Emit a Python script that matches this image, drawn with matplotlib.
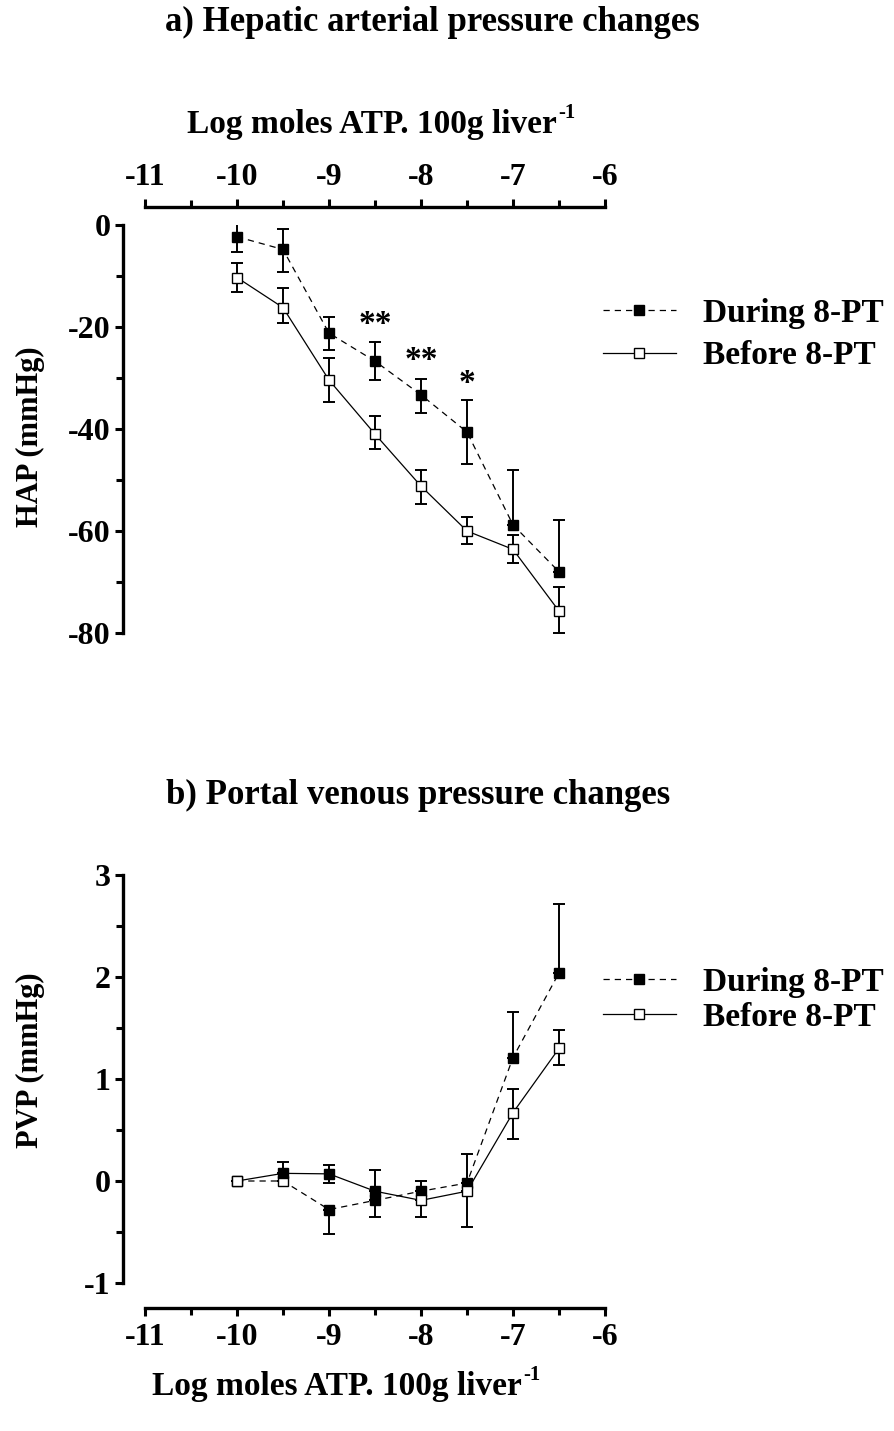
import matplotlib
matplotlib.use("Agg")
import matplotlib.pyplot as plt
from matplotlib.lines import Line2D
import numpy as np

plt.rcParams['font.family'] = ['Liberation Serif', 'DejaVu Serif']
plt.rcParams['font.weight'] = 'bold'
plt.rcParams['axes.unicode_minus'] = False

# log dose, moles ATP per 100 g liver
doses = [-10, -9.5, -9, -8.5, -8, -7.5, -7, -6.5]

# a) hepatic arterial pressure change (mmHg)
hap_during = [-2.3, -4.8, -21.2, -26.7, -33.3, -40.6, -58.8, -68.0]
hap_during_lo = [2.9, 4.4, 3.4, 3.7, 3.6, 6.2, 0, 0]
hap_during_hi = [3.3, 4.0, 3.2, 3.8, 3.2, 6.3, 10.8, 10.2]
hap_before = [-10.3, -16.2, -30.4, -41.0, -51.2, -60.0, -63.6, -75.7]
hap_before_lo = [2.8, 3.1, 4.3, 3.0, 3.6, 2.6, 2.6, 4.3]
hap_before_hi = [2.8, 3.9, 4.3, 3.5, 3.2, 2.8, 2.8, 4.8]
sig_doses = [-8.5, -8, -7.5]
sig_marks = ['**', '**', '*']
sig_y = [-19.5, -26.5, -31.0]

# b) portal venous pressure change (mmHg), as the two traces are drawn
pvp_during = [0, 0.0, -0.28, -0.19, -0.10, -0.02, 1.21, 2.04]
pvp_during_lo = [0, 0, 0.24, 0, 0, 0, 0, 0]
pvp_during_hi = [0, 0, 0, 0.30, 0.10, 0.28, 0.45, 0.68]
pvp_during_fill = [False, False, True, True, True, True, True, True]
pvp_before = [0, 0.075, 0.07, -0.10, -0.19, -0.10, 0.67, 1.30]
pvp_before_lo = [0, 0, 0.09, 0.25, 0.16, 0.35, 0.26, 0.16]
pvp_before_hi = [0, 0.115, 0.09, 0, 0, 0, 0.23, 0.18]
pvp_before_fill = [False, True, True, True, False, False, False, False]

xticks = [-11, -10, -9, -8, -7, -6]
xlabel = "Log moles ATP. 100g liver"

DASH = (0, (5, 4))
TICK_FS = 23
LAB_FS = 24
TITLE_FS = 25

W, H = 895, 1431


def draw_series(ax, y, lo, hi, fill, ls):
    x = np.array(doses)
    y = np.array(y)
    ax.errorbar(x, y, yerr=[lo, hi], fmt='none', ecolor='black',
                elinewidth=1.4, capsize=4, capthick=1.4, zorder=2)
    ax.plot(x, y, color='black', lw=0.9, ls=ls, zorder=3)
    fill = np.array(fill)
    ax.plot(x[fill], y[fill], 's', ms=7, mfc='black', mec='black',
            mew=1.0, ls='none', zorder=4)
    ax.plot(x[~fill], y[~fill], 's', ms=7, mfc='white', mec='black',
            mew=1.0, ls='none', zorder=4)


def style_axes(ax, xside):
    # spine offsets are in points (1 px = 0.72 pt at 100 dpi)
    for s in ax.spines.values():
        s.set_linewidth(2.4)
    ax.spines['right'].set_visible(False)
    if xside == 'top':
        ax.spines['bottom'].set_visible(False)
        ax.xaxis.tick_top()
        ax.spines['top'].set_position(('outward', 13))
    else:
        ax.spines['top'].set_visible(False)
        ax.spines['bottom'].set_position(('outward', 18))
    ax.spines['left'].set_position(('outward', 16))
    ax.set_xlim(-11, -6)
    ax.set_xticks(xticks)
    ax.set_xticklabels([str(t) for t in xticks])
    ax.set_xticks(np.arange(-10.5, -6, 1.0), minor=True)
    ax.tick_params(axis='both', which='major', length=6, width=2.2,
                   labelsize=TICK_FS, pad=3)
    ax.tick_params(axis='x', which='major', pad=5)
    ax.tick_params(axis='both', which='minor', length=5, width=2.2)
    for lab in ax.get_xticklabels() + ax.get_yticklabels():
        lab.set_fontweight('bold')


def label_with_sup(fig, cx, cy, text):
    # main text centred on (cx, cy) in pixels, with a raised "-1" after it
    t = fig.text(cx / W, 1 - cy / H, text, ha='center', va='center',
                 fontsize=LAB_FS, fontweight='bold')
    bb = t.get_window_extent(renderer=fig.canvas.get_renderer())
    fig.text((bb.x1 + 1) / W, (bb.y1 - 4) / H, "-1", ha='left',
             va='center', fontsize=15, fontweight='bold')


fig = plt.figure(figsize=(W / 100, H / 100), dpi=100)

# ---- panel a ----
ax1 = fig.add_axes([145 / W, 1 - 633 / H, 460 / W, 408 / H])
draw_series(ax1, hap_during, hap_during_lo, hap_during_hi,
            [True] * len(doses), DASH)
draw_series(ax1, hap_before, hap_before_lo, hap_before_hi,
            [False] * len(doses), '-')
for xd, m, yy in zip(sig_doses, sig_marks, sig_y):
    ax1.text(xd, yy, m, ha='center', va='center', fontsize=LAB_FS)
ax1.set_ylim(-80, 0)
ax1.set_yticks([0, -20, -40, -60, -80])
ax1.set_yticks([-10, -30, -50, -70], minor=True)
style_axes(ax1, 'top')
fig.text(432 / W, 1 - 22 / H, "a) Hepatic arterial pressure changes",
         ha='center', va='center', fontsize=TITLE_FS, fontweight='bold')
label_with_sup(fig, 372, 124, xlabel)
fig.text(30 / W, 1 - 437 / H, "HAP (mmHg)", rotation=90, ha='center',
         va='center', fontsize=22, fontweight='bold')

# ---- panel b ----
ax2 = fig.add_axes([145 / W, 1 - 1283 / H, 460 / W, 408 / H])
draw_series(ax2, pvp_during, pvp_during_lo, pvp_during_hi,
            pvp_during_fill, DASH)
draw_series(ax2, pvp_before, pvp_before_lo, pvp_before_hi,
            pvp_before_fill, '-')
ax2.set_ylim(-1, 3)
ax2.set_yticks([-1, 0, 1, 2, 3])
ax2.set_yticks([-0.5, 0.5, 1.5, 2.5], minor=True)
style_axes(ax2, 'bottom')
fig.text(418 / W, 1 - 795 / H, "b) Portal venous pressure changes",
         ha='center', va='center', fontsize=TITLE_FS, fontweight='bold')
label_with_sup(fig, 337, 1387, xlabel)
fig.text(30 / W, 1 - 1060 / H, "PVP (mmHg)", rotation=90, ha='center',
         va='center', fontsize=22, fontweight='bold')

# ---- legends ----
handles = [
    Line2D([], [], color='black', lw=0.9, ls=DASH, marker='s', ms=7,
           mfc='black', mec='black'),
    Line2D([], [], color='black', lw=0.9, ls='-', marker='s', ms=7,
           mfc='white', mec='black'),
]
names = ["During 8-PT", "Before 8-PT"]
for anchor_y, spacing in ((1 - 291 / H, 0.35), (1 - 960 / H, 0.12)):
    fig.legend(handles, names, loc='upper left',
               bbox_to_anchor=(596 / W, anchor_y), frameon=False,
               handlelength=2.2, handletextpad=0.8, borderaxespad=0,
               labelspacing=spacing, numpoints=1, borderpad=0.2,
               prop={'weight': 'bold', 'size': LAB_FS})

fig.savefig("out.png", dpi=100)
